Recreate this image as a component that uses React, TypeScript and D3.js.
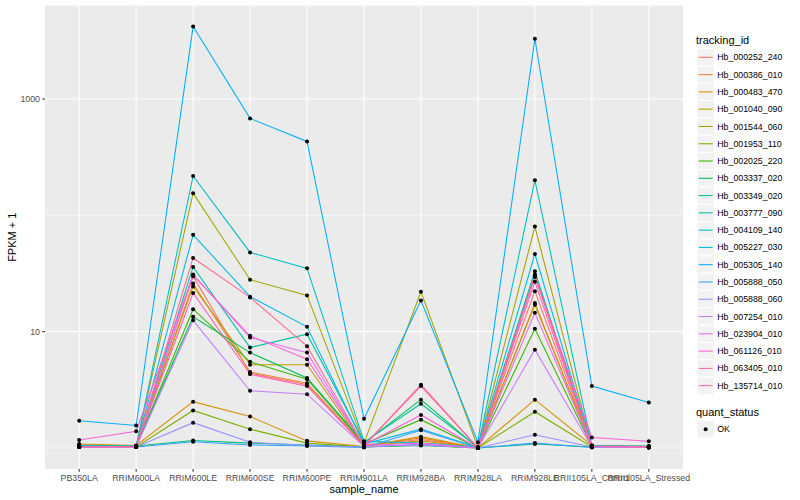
import React, { useEffect, useRef } from 'react';
import * as d3 from 'd3';

// sample order on the x axis
const samples = [
  'PB350LA', 'RRIM600LA', 'RRIM600LE', 'RRIM600SE', 'RRIM600PE', 'RRIM901LA',
  'RRIM928BA', 'RRIM928LA', 'RRIM928LE', 'RRII105LA_Control', 'RRII105LA_Stressed',
];

const trackingIds = [
  'Hb_000252_240', 'Hb_000386_010', 'Hb_000483_470', 'Hb_001040_090', 'Hb_001544_060',
  'Hb_001953_110', 'Hb_002025_220', 'Hb_003337_020', 'Hb_003349_020', 'Hb_003777_090',
  'Hb_004109_140', 'Hb_005227_030', 'Hb_005305_140', 'Hb_005888_050', 'Hb_005888_060',
  'Hb_007254_010', 'Hb_023904_010', 'Hb_061126_010', 'Hb_063405_010', 'Hb_135714_010',
];

// FPKM + 1 per sample, one array per gene
const hb000252_240 = [1.03, 1.02, 30, 4.4, 3.5, 1.06, 1.18, 1.01, 22.3, 1.03, 1.02];
const hb000386_010 = [1.04, 1.03, 26, 4.5, 3.6, 1.05, 1.22, 1.0, 17.6, 1.04, 1.03];
const hb000483_470 = [1.08, 1.05, 2.5, 1.86, 1.15, 1.03, 1.25, 1.0, 2.6, 1.05, 1.03];
const hb001040_090 = [1.06, 1.04, 24.5, 5.2, 5.2, 1.04, 1.15, 1.0, 17.0, 1.03, 1.02];
const hb001544_060 = [1.05, 1.03, 155, 28, 20.5, 1.1, 22, 1.01, 80, 1.03, 1.02];
const hb001953_110 = [1.04, 1.02, 2.1, 1.45, 1.1, 1.02, 1.06, 1.0, 2.05, 1.02, 1.01];
const hb002025_220 = [1.02, 1.03, 15.6, 5.5, 3.9, 1.08, 1.75, 1.0, 10.6, 1.03, 1.02];
const hb003337_020 = [1.03, 1.04, 13.4, 6.6, 4.0, 1.1, 2.6, 1.0, 31, 1.04, 1.03];
const hb003349_020 = [1.02, 1.04, 1.16, 1.1, 1.06, 1.02, 1.05, 1.0, 1.08, 1.02, 1.01];
const hb003777_090 = [1.03, 1.03, 36, 7.3, 9.5, 1.12, 2.4, 1.01, 33, 1.03, 1.02];
const hb004109_140 = [1.05, 1.04, 218, 48, 35, 1.14, 1.1, 1.02, 200, 1.05, 1.04];
const hb005227_030 = [1.04, 1.03, 68, 20, 11, 1.08, 1.45, 1.01, 46.5, 1.03, 1.02];
const hb005305_140 = [1.71, 1.56, 4200, 682, 432, 1.78, 18.5, 1.12, 3300, 3.4, 2.46];
const hb005888_050 = [1.02, 1.02, 1.13, 1.06, 1.04, 1.01, 1.42, 1.0, 1.1, 1.01, 1.01];
const hb005888_060 = [1.03, 1.02, 1.65, 1.12, 1.05, 1.02, 1.08, 1.0, 1.3, 1.02, 1.01];
const hb007254_010 = [1.02, 1.02, 12.5, 3.1, 2.9, 1.03, 1.06, 1.0, 7.0, 1.02, 1.01];
const hb023904_010 = [1.02, 1.03, 31, 8.9, 6.6, 1.05, 1.1, 1.0, 14.5, 1.03, 1.02];
const hb061126_010 = [1.17, 1.39, 30.5, 9.2, 5.8, 1.06, 1.92, 1.0, 29.5, 1.23, 1.14];
const hb063405_010 = [1.02, 1.03, 21.5, 4.3, 3.4, 1.04, 3.5, 1.0, 26.8, 1.04, 1.03];
const hb135714_010 = [1.03, 1.02, 43, 19.7, 7.5, 1.05, 3.4, 1.0, 30.5, 1.03, 1.02];

const seriesValues = [
  hb000252_240, hb000386_010, hb000483_470, hb001040_090, hb001544_060,
  hb001953_110, hb002025_220, hb003337_020, hb003349_020, hb003777_090,
  hb004109_140, hb005227_030, hb005305_140, hb005888_050, hb005888_060,
  hb007254_010, hb023904_010, hb061126_010, hb063405_010, hb135714_010,
];

const yMajorTicks = [10, 1000];
const yMinorTicks = [1, 100, 10000];
const quantStatus = ['OK'];

// ggplot2 default hue palette for 20 levels
const palette = [
  '#F8766D', '#EA8331', '#D89000', '#C09B00', '#A3A500', '#7CAE00', '#39B600',
  '#00BB4E', '#00BF7D', '#00C1A3', '#00BFC4', '#00BAE0', '#00B0F6', '#35A2FF',
  '#9590FF', '#C77CFF', '#E76BF3', '#FA62DB', '#FF62BC', '#FF6C91',
];

const FONT = '"Liberation Sans", Arial, Helvetica, sans-serif';

const App: React.FC = () => {
  const svgRef = useRef<SVGSVGElement | null>(null);

  useEffect(() => {
    if (!svgRef.current) return;
    const svg = d3.select(svgRef.current);
    svg.selectAll('*').remove();

    const left = 45, right = 683, top = 5.5, bottom = 469;

    const series = trackingIds.map((id, i) => ({ id, values: seriesValues[i] }));

    const x = d3.scalePoint<string>().domain(samples).range([left, right]).padding(0.6);

    const all = seriesValues.flat();
    const [lo, hi] = d3.extent(all) as [number, number];
    const lLo = Math.log10(lo), lHi = Math.log10(hi);
    const pad = (lHi - lLo) * 0.05;
    const y = d3.scaleLog()
      .domain([Math.pow(10, lLo - pad), Math.pow(10, lHi + pad)])
      .range([bottom, top]);

    const color = d3.scaleOrdinal<string, string>().domain(trackingIds).range(palette);

    // panel
    svg.append('rect')
      .attr('x', left).attr('y', top)
      .attr('width', right - left).attr('height', bottom - top)
      .attr('fill', '#EBEBEB');

    const [d0, d1] = y.domain();
    const grid = svg.append('g');
    grid.selectAll('line.minor')
      .data(yMinorTicks.filter(t => t >= d0 && t <= d1))
      .join('line')
      .attr('x1', left).attr('x2', right)
      .attr('y1', d => y(d)).attr('y2', d => y(d))
      .attr('stroke', '#fff').attr('stroke-width', 0.53);
    grid.selectAll('line.major')
      .data(yMajorTicks)
      .join('line')
      .attr('x1', left).attr('x2', right)
      .attr('y1', d => y(d)).attr('y2', d => y(d))
      .attr('stroke', '#fff').attr('stroke-width', 1.07);
    grid.selectAll('line.xmajor')
      .data(samples)
      .join('line')
      .attr('x1', d => x(d)!).attr('x2', d => x(d)!)
      .attr('y1', top).attr('y2', bottom)
      .attr('stroke', '#fff').attr('stroke-width', 1.07);

    // lines
    const line = d3.line<number>()
      .x((_, i) => x(samples[i])!)
      .y(d => y(d));

    svg.append('g')
      .selectAll('path')
      .data(series)
      .join('path')
      .attr('d', d => line(d.values))
      .attr('fill', 'none')
      .attr('stroke', d => color(d.id))
      .attr('stroke-width', 1.07);

    // points
    const pts = series.flatMap(s => s.values.map((v, i) => ({ s: samples[i], v })));
    svg.append('g')
      .selectAll('circle')
      .data(pts)
      .join('circle')
      .attr('cx', d => x(d.s)!)
      .attr('cy', d => y(d.v))
      .attr('r', 2)
      .attr('fill', '#000');

    // y axis
    const yAxis = svg.append('g');
    yAxis.selectAll('line')
      .data(yMajorTicks)
      .join('line')
      .attr('x1', left - 2.75).attr('x2', left)
      .attr('y1', d => y(d)).attr('y2', d => y(d))
      .attr('stroke', '#333333').attr('stroke-width', 1.07);
    yAxis.selectAll('text')
      .data(yMajorTicks)
      .join('text')
      .attr('x', left - 5)
      .attr('y', d => y(d))
      .attr('dy', '0.35em')
      .attr('text-anchor', 'end')
      .attr('font-family', FONT)
      .attr('font-size', 8.8)
      .attr('fill', '#4D4D4D')
      .text(d => d3.format('d')(d));

    // x axis
    const xAxis = svg.append('g');
    xAxis.selectAll('line')
      .data(samples)
      .join('line')
      .attr('x1', d => x(d)!).attr('x2', d => x(d)!)
      .attr('y1', bottom).attr('y2', bottom + 2.75)
      .attr('stroke', '#333333').attr('stroke-width', 1.07);
    xAxis.selectAll('text')
      .data(samples)
      .join('text')
      .attr('x', d => x(d)!)
      .attr('y', 480.5)
      .attr('text-anchor', 'middle')
      .attr('font-family', FONT)
      .attr('font-size', 8.8)
      .attr('fill', '#4D4D4D')
      .text(d => d);

    // axis titles
    svg.append('text')
      .attr('x', (left + right) / 2)
      .attr('y', 492.5)
      .attr('text-anchor', 'middle')
      .attr('font-family', FONT)
      .attr('font-size', 11)
      .attr('fill', '#000')
      .text('sample_name');
    svg.append('text')
      .attr('transform', `translate(16,${(top + bottom) / 2}) rotate(-90)`)
      .attr('text-anchor', 'middle')
      .attr('font-family', FONT)
      .attr('font-size', 11)
      .attr('fill', '#000')
      .text('FPKM + 1');

    // legend: tracking_id
    const lx = 697, keyW = 17.28, keyH = 17.28, firstKey = 48.7;
    const legend = svg.append('g');
    legend.append('text')
      .attr('x', lx - 1)
      .attr('y', 44)
      .attr('font-family', FONT)
      .attr('font-size', 11)
      .attr('fill', '#000')
      .text('tracking_id');
    const rows = legend.selectAll('g.row')
      .data(trackingIds)
      .join('g')
      .attr('transform', (_, i) => `translate(${lx},${firstKey + i * keyH})`);
    rows.append('rect')
      .attr('width', keyW).attr('height', keyH)
      .attr('fill', '#F2F2F2').attr('stroke', '#fff').attr('stroke-width', 1);
    rows.append('line')
      .attr('x1', 1.7).attr('x2', keyW - 1.7)
      .attr('y1', keyH / 2).attr('y2', keyH / 2)
      .attr('stroke', d => color(d)).attr('stroke-width', 1.07);
    rows.append('text')
      .attr('x', keyW + 3)
      .attr('y', keyH / 2)
      .attr('dy', '0.35em')
      .attr('font-family', FONT)
      .attr('font-size', 8.8)
      .attr('fill', '#000')
      .text(d => d);

    // legend: quant_status
    legend.append('text')
      .attr('x', lx - 1)
      .attr('y', 416)
      .attr('font-family', FONT)
      .attr('font-size', 11)
      .attr('fill', '#000')
      .text('quant_status');
    const qrows = legend.selectAll('g.qrow')
      .data(quantStatus)
      .join('g')
      .attr('transform', (_, i) => `translate(${lx},${420.7 + i * keyH})`);
    qrows.append('rect')
      .attr('width', keyW).attr('height', keyH)
      .attr('fill', '#F2F2F2').attr('stroke', '#fff').attr('stroke-width', 1);
    qrows.append('circle')
      .attr('cx', keyW / 2).attr('cy', keyH / 2).attr('r', 2)
      .attr('fill', '#000');
    qrows.append('text')
      .attr('x', keyW + 3)
      .attr('y', keyH / 2)
      .attr('dy', '0.35em')
      .attr('font-family', FONT)
      .attr('font-size', 8.8)
      .attr('fill', '#000')
      .text(d => d);
  }, []);

  return (
    <svg
      ref={svgRef}
      width={800}
      height={500}
      style={{ position: 'absolute', left: 0, top: 0, background: '#fff' }}
    />
  );
};

export default App;
